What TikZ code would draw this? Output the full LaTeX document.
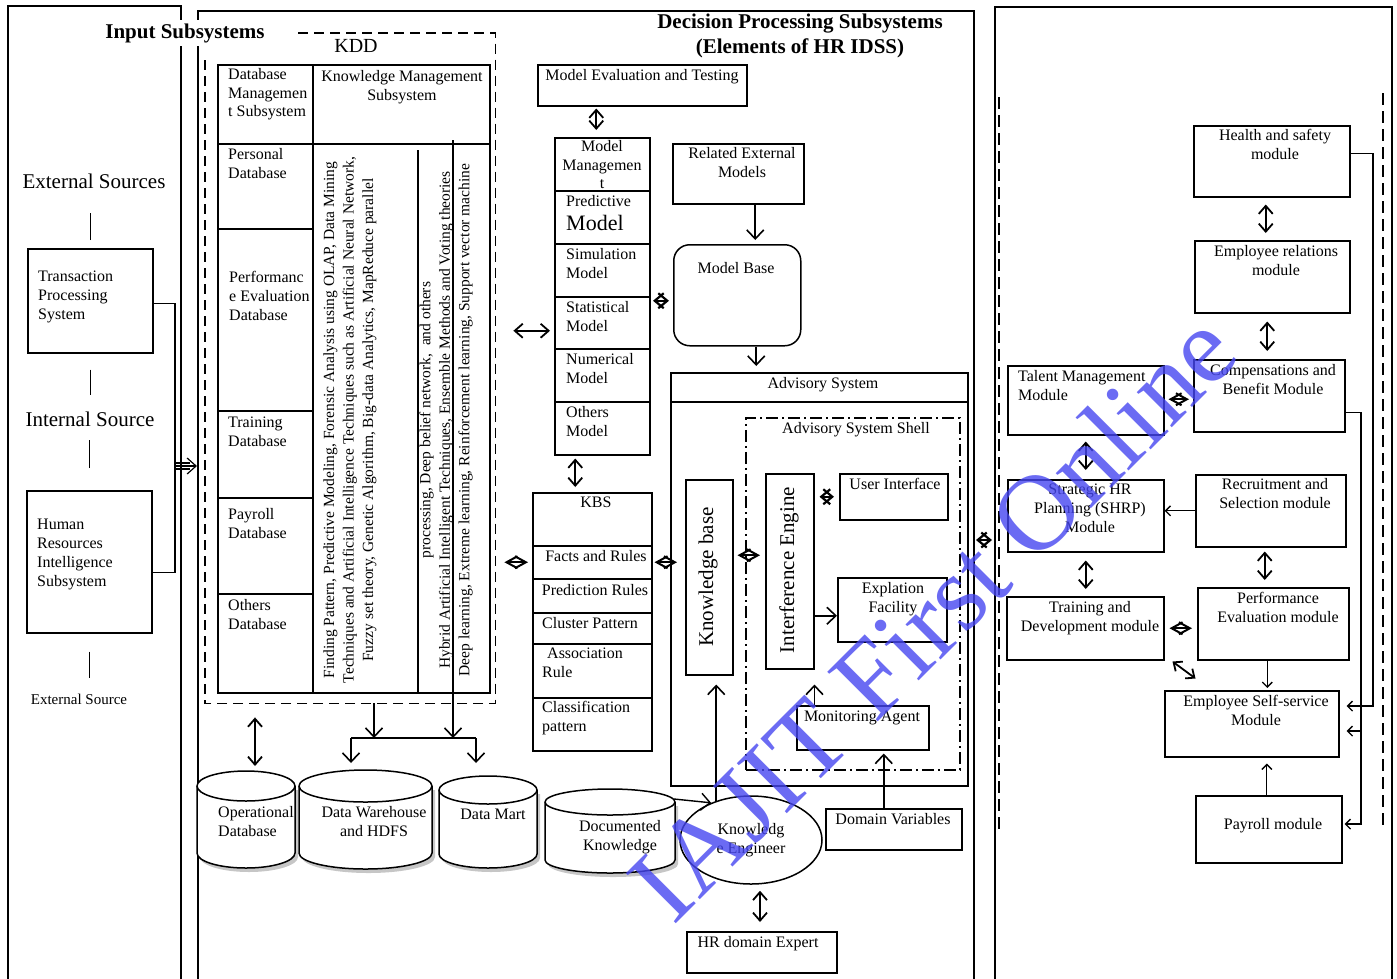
\documentclass[tikz,border=0pt]{standalone}
\usepackage{fontspec}
\setmainfont{Liberation Serif}
\usetikzlibrary{arrows.meta,shapes.geometric,calc}
\definecolor{wmblue}{RGB}{70,70,240}
\tikzset{
  ln/.style={line width=1.5pt},
  box/.style={draw, line width=1.5pt, inner sep=0pt, anchor=north west},
  tx/.style={inner sep=0pt, font=\fontsize{16}{18.8}\selectfont},
  big/.style={inner sep=0pt, font=\fontsize{21}{24}\selectfont},
  ttl/.style={inner sep=0pt, font=\fontsize{21}{25}\selectfont\bfseries},
  rot/.style={inner sep=0pt, rotate=90, align=center, font=\fontsize{15.5}{19.5}\selectfont},
  va/.style={line width=1.6pt, -{Straight Barb[length=9pt,width=17pt]}},
  vv/.style={line width=1.8pt, {Straight Barb[length=8pt,width=14pt]}-{Straight Barb[length=8pt,width=14pt]}},
  dia/.style={line width=2pt, {Straight Barb[length=11pt,width=12pt]}-{Straight Barb[length=11pt,width=12pt]}},
  xx/.style={line width=2.2pt, {Straight Barb[length=9pt,width=15pt]}-{Straight Barb[length=9pt,width=15pt]}},
  sa/.style={line width=1.4pt, -{Straight Barb[length=5pt,width=10pt]}},
  dsh/.style={line width=1.5pt, dash pattern=on 10pt off 6pt},
  dd/.style={line width=1.5pt, dash pattern=on 12pt off 4pt on 2pt off 4pt},
}
\newcommand\mybox[5]{\node[box, minimum width={#4-#2}, minimum height={#5-#3}] (#1) at (#2,#3) {};}
\newcommand\myct[4]{\node[tx, align=center, anchor=north] (#1) at (#2,#3-6) {#4};}
\newcommand\mylt[4]{\node[tx, align=left, anchor=north west] (#1) at (#2,#3-6) {#4};}
% cylinder: name, x1, x2, y top-ellipse centre, y bottom-ellipse centre, ry
\newcommand\mycyl[6]{%
  \pgfmathsetmacro\cylcx{(#2+#3)/2}\pgfmathsetmacro\cylrx{(#3-#2)/2}%
  \fill[gray!45] (#2+3,#4+4) -- (#2+3,#5+4) arc[start angle=180,end angle=360,x radius=\cylrx pt,y radius=#6pt] -- (#3+3,#4+4) -- cycle;
  \draw[ln, fill=white] (#2,#4) -- (#2,#5) arc[start angle=180,end angle=360,x radius=\cylrx pt,y radius=#6pt] -- (#3,#4) arc[start angle=0,end angle=180,x radius=\cylrx pt,y radius=#6pt] -- cycle;
  \draw[ln] (#2,#4) arc[start angle=180,end angle=360,x radius=\cylrx pt,y radius=#6pt];
  \coordinate (#1) at (\cylcx,#4-#6);
}
\begin{document}
\begin{tikzpicture}[x=1pt,y=-1pt]
\useasboundingbox (0,0) rectangle (1397,978);
\clip (0,0) rectangle (1397,978);

% ---------- panels
\mybox{lp}{7}{5}{180}{990}
\mybox{mp}{197}{10}{973}{990}
\mybox{rp}{994}{6}{1391}{990}

\node[ttl, fill=white, inner sep=3pt] (inTitle) at (185,33) {Input Subsystems};
\node[ttl, align=center, anchor=north] (dpTitle) at (800,14) {Decision Processing Subsystems\\(Elements of HR IDSS)};

% ---------- left panel
\node[big] (es) at (94,181) {External Sources};
\node[big] (isrc) at (90,419) {Internal Source};
\node[tx, font=\fontsize{15}{18}\selectfont] (es2) at (79,699) {External Source};
\mybox{tps}{27}{248}{152}{352}
\mylt{tpsT}{38}{277}{Transaction\\Processing\\System}
\mybox{hris}{26}{490}{151}{632}
\mylt{hrisT}{37}{525}{Human\\Resources\\Intelligence\\Subsystem}
\draw[ln] ([yshift=8pt]tps.north) -- ([yshift=35pt]tps.north);
\draw[ln] ([yshift=-16pt]tps.south) -- ([yshift=-41pt]tps.south);
\draw[ln] ([yshift=22pt]hris.north) -- ([yshift=50pt]hris.north);
\draw[ln] ([yshift=-18pt]hris.south) -- ([yshift=-44pt]hris.south);
\coordinate (bus) at (175,466);
\draw[line width=1.2pt] ([yshift=-3pt]tps.east) -| (bus) |- ([yshift=-11pt]hris.east);
\draw[line width=1.2pt] ([yshift=3pt]bus) -- ++(15pt,0pt);
\draw[line width=1.2pt] ([yshift=-3pt]bus) -- ++(15pt,0pt);
\draw[line width=1.2pt, -{Straight Barb[length=9pt,width=16pt]}] (bus) -- (bus -| mp.west);

% ---------- KDD
\node[inner sep=0pt, minimum width=290, minimum height=670, anchor=north west] (kdd) at (205,33) {};
\draw[dsh] (298,33) -- (kdd.north east) -- (kdd.south east) -- (kdd.south west) -- (205,60);
\node[big, font=\fontsize{20}{24}\selectfont] (kddT) at (356,46) {KDD};

\mybox{dbh}{217}{64}{312}{143}
\mybox{kmh}{312}{64}{489}{143}
\mybox{pdb}{217}{143}{312}{228}
\mybox{pedb}{217}{228}{312}{410}
\mybox{tdb}{217}{410}{312}{497}
\mybox{paydb}{217}{497}{312}{593}
\mybox{odb}{217}{593}{312}{692}
\mybox{kmb}{312}{143}{489}{692}
\draw[ln] (418,150) -- (418,692);
\draw[ln] (453,140) -- (453,703);

\mylt{dbhT}{228}{74}{Database\\Managemen\\t Subsystem}
\myct{kmhT}{402}{76}{Knowledge Management\\Subsystem}
\mylt{pdbT}{228}{154}{Personal\\Database}
\mylt{pedbT}{229}{277}{Performanc\\e Evaluation\\Database}
\mylt{tdbT}{228}{423}{Training\\Database}
\mylt{paydbT}{228}{514}{Payroll\\Database}
\mylt{odbT}{228}{605}{Others\\Database}

\node[rot] (km1) at (350,420) {Finding Pattern, Predictive Modeling, Forensic Analysis using OLAP, Data Mining\\Techniques and Artificial Intelligence Techniques such as Artificial Neural Network,\\Fuzzy set theory, Genetic Algorithm, Big-data Analytics, MapReduce parallel};
\node[rot] (km2) at (446,420) {processing, Deep belief network,\ \ and others\\Hybrid Artificial Intelligent Techniques, Ensemble Methods and Voting theories\\Deep learning, Extreme learning, Reinforcement learning, Support vector machine};

% ---------- model management
\mybox{met}{537}{64}{746}{105}
\myct{metT}{642}{75}{Model Evaluation and Testing}
\mybox{mmh}{554}{137}{649}{190}
\mybox{pm}{554}{190}{649}{243}
\mybox{sm}{554}{243}{649}{296}
\mybox{stm}{554}{296}{649}{348}
\mybox{nm}{554}{348}{649}{401}
\mybox{om}{554}{401}{649}{454}
\myct{mmhT}{602}{146}{Model\\Managemen\\t}
\mylt{pmT1}{566}{201}{Predictive}
\node[inner sep=0pt, font=\fontsize{22}{24}\selectfont, anchor=north west] (pmT2) at (566,215) {Model};
\mylt{smT}{566}{254}{Simulation\\Model}
\mylt{stmT}{566}{307}{Statistical\\Model}
\mylt{nmT}{566}{359}{Numerical\\Model}
\mylt{omT}{566}{412}{Others\\Model}

\mybox{rem}{672}{143}{803}{203}
\myct{remT}{742}{153}{Related External\\Models}
\node[box, rounded corners=16pt, minimum width=127, minimum height=101] (mb) at (673,244) {};
\myct{mbT}{736}{268}{Model Base}

% ---------- KBS
\mybox{kbs}{532}{492}{651}{545}
\mybox{far}{532}{545}{651}{578}
\mybox{prr}{532}{578}{651}{612}
\mybox{clp}{532}{612}{651}{643}
\mybox{asr}{532}{643}{651}{697}
\mybox{clsp}{532}{697}{651}{750}
\myct{kbsT}{596}{503}{KBS}
\myct{farT}{596}{556}{Facts and Rules}
\myct{prrT}{595}{590}{Prediction Rules}
\mylt{clpT}{542}{623}{Cluster Pattern}
\mylt{asrT}{542}{654}{\hspace*{5pt}Association\\Rule}
\mylt{clspT}{542}{707}{Classification\\pattern}

% ---------- advisory system
\mybox{adv}{670}{372}{967}{785}
\draw[ln] ([yshift=-30pt]adv.north west) -- ([yshift=-30pt]adv.north east);
\myct{advT}{823}{383}{Advisory System}
\node[dd, draw, inner sep=0pt, anchor=north west, minimum width=214, minimum height=352] (shell) at (745,417) {};
\myct{shellT}{856}{428}{Advisory System Shell}
\mybox{kb}{685}{479}{732}{674}
\node[rot, font=\fontsize{21}{24}\selectfont] (kbT) at (708,577) {Knowledge base};
\mybox{ie}{765}{473}{813}{668}
\node[rot, font=\fontsize{21}{24}\selectfont] (ieT) at (789,570) {Interference Engine};
\mybox{ui}{839}{473}{947}{519}
\myct{uiT}{895}{484}{User Interface}
\mybox{ef}{837}{577}{946}{641}
\myct{efT}{893}{588}{Explation\\Facility}
\mybox{ma}{796}{705}{928}{749}
\myct{maT}{862}{717}{Monitoring Agent}

% ---------- storage
\mycyl{opdtop}{197}{295}{786}{853}{15}
\mylt{opdT}{218}{812}{Operational\\Database}
\mycyl{dwtop}{299}{432}{786}{853}{16}
\myct{dwT}{374}{812}{Data Warehouse\\and HDFS}
\mycyl{dmtop}{439}{537}{790}{854}{14}
\myct{dmT}{493}{815}{Data Mart}
\mycyl{dktop}{545}{675}{802}{860}{13}
\myct{dkT}{620}{826}{Documented\\Knowledge}

\node[ellipse, draw, ln, tx, align=center, minimum width=142pt, minimum height=88pt] (ke) at (751,840) {Knowledg\\e Engineer};
\mybox{dv}{825}{808}{961}{849}
\myct{dvT}{893}{819}{Domain Variables}
\mybox{hre}{686}{931}{836}{972}
\myct{hreT}{758}{942}{HR domain Expert}

% ---------- right panel
\draw[dsh, dash pattern=on 12pt off 6pt] (999,97) -- (999,830);
\draw[dsh, dash pattern=on 12pt off 6pt] (1383,93) -- (1383,825);
\mybox{hs}{1193}{125}{1349}{196}
\myct{hsT}{1275}{135}{Health and safety\\module}
\mybox{er}{1194}{240}{1349}{312}
\myct{erT}{1276}{251}{Employee relations\\module}
\mybox{cb}{1193}{359}{1344}{431}
\myct{cbT}{1273}{370}{Compensations and\\Benefit Module}
\mybox{tm}{1007}{365}{1163}{434}
\mylt{tmT}{1018}{376}{Talent Management\\Module}
\mybox{shrp}{1007}{479}{1163}{551}
\myct{shrpT}{1090}{490}{Strategic HR\\Planning (SHRP)\\Module}
\mybox{rs}{1195}{474}{1345}{546}
\myct{rsT}{1275}{484}{Recruitment and\\Selection module}
\mybox{td}{1006}{596}{1163}{659}
\myct{tdT}{1090}{607}{Training and\\Development module}
\mybox{pe}{1197}{587}{1348}{659}
\myct{peT}{1278}{598}{Performance\\Evaluation module}
\mybox{ess}{1164}{690}{1338}{756}
\myct{essT}{1256}{701}{Employee Self-service\\Module}
\mybox{pay}{1195}{795}{1341}{862}
\myct{payT}{1273}{824}{Payroll module}

% ---------- connectors: middle panel
\draw[vv, shorten <=2pt, shorten >=7pt] ([xshift=-6pt]mmh.north |- met.south) -- ([xshift=-6pt]mmh.north);
\draw[va, shorten >=4pt] ([xshift=17pt]rem.south) -- ([xshift=17pt]rem.south |- mb.north);
\draw[va, shorten >=6pt] ([xshift=19pt]mb.south) -- ([xshift=19pt]mb.south |- adv.north);
\draw[xx] ([yshift=-5.5pt,xshift=-4pt]mb.west) -- ([yshift=-5.5pt,xshift=-20pt]mb.west);
\draw[vv, shorten <=18pt, shorten >=4pt] ([yshift=-8pt]stm.west -| kdd.east) -- ([yshift=-8pt]stm.west);
\draw[vv, shorten <=3pt, shorten >=5pt] ([xshift=-27pt]om.south) -- ([xshift=-27pt]om.south |- kbs.north);
\draw[dia, shorten <=4pt, shorten >=9pt] (far.west) -- (far.west -| kdd.east);
\draw[dia, shorten <=2pt] (far.east) -- ([xshift=7pt]far.east -| adv.west);
\draw[dia, shorten <=4pt, shorten >=5pt] ([yshift=22pt]kb.east) -- ([yshift=22pt]kb.east -| ie.west);
\draw[xx, shorten <=5pt, shorten >=5pt] (ui.west) -- (ui.west -| ie.east);
\draw[va] ([yshift=-6pt]ef.west -| ie.east) -- ([yshift=-6pt]ef.west);
\draw[va, shorten >=15pt] (ma.north -| ie.east) -- (ie.south east);
\draw[va, shorten >=3pt] ([xshift=-10pt]dv.north) -- ([xshift=-10pt]dv.north |- ma.south);
\draw[va, shorten >=9pt] ([xshift=7pt,yshift=-6pt]kb.south |- ke.north) -- ([xshift=7pt]kb.south);
\coordinate (docR) at (674,799);
\draw[va, line width=1.4pt] (docR) -- (ke.137);
\draw[vv, shorten <=6pt, shorten >=9pt] ([xshift=9pt]ke.south) -- ([xshift=9pt]ke.south |- hre.north);

\coordinate (barL) at (351,738);
\coordinate (barR) at (476,738);
\draw[ln] (barL) -- (barR);
\draw[va] ([xshift=169pt]kdd.south west) -- ([xshift=169pt]kdd.south west |- barL);
\draw[va] ([xshift=248pt]kdd.south west) -- ([xshift=248pt]kdd.south west |- barL);
\draw[va, shorten >=7pt] (barL) -- (barL |- dwtop);
\draw[va, shorten >=13pt] (barR) -- (barR |- dmtop);
\draw[vv, shorten <=14pt, shorten >=5pt] ([xshift=50pt]kdd.south west) -- ([xshift=50pt]kdd.south west |- opdtop);

\coordinate (mr) at (984,540);
\draw[xx] ([xshift=-8pt]mr) -- ([xshift=8pt]mr);

% ---------- connectors: right panel
\draw[vv, shorten <=7pt, shorten >=7pt] ([xshift=-6pt]hs.south) -- ([xshift=-6pt]hs.south |- er.north);
\draw[vv, shorten <=8pt, shorten >=8pt] ([xshift=-5pt]er.south) -- ([xshift=-5pt]er.south |- cb.north);
\draw[dia, shorten <=4pt, shorten >=4pt] ([yshift=1pt]tm.east) -- ([yshift=1pt]tm.east -| cb.west);
\draw[vv, shorten <=6pt, shorten >=9pt] (tm.south) -- (tm.south |- shrp.north);
\draw[sa] (rs.west) -- (rs.west -| shrp.east);
\draw[vv, shorten <=8pt, shorten >=7pt] (shrp.south) -- (shrp.south |- td.north);
\draw[vv, shorten <=4pt, shorten >=7pt] ([xshift=-6pt]rs.south) -- ([xshift=-6pt]rs.south |- pe.north);
\draw[dia, shorten <=5pt, shorten >=5pt] (td.east) -- (td.east -| pe.west);
\draw[line width=1.8pt, {Straight Barb[length=7pt,width=12pt]}-{Straight Barb[length=7pt,width=12pt]}] ([shift={(8pt,-1pt)}]td.south east) -- ([shift={(31pt,-18pt)}]td.south east);
\draw[sa, shorten >=2pt] ([xshift=-6pt]pe.south) -- ([xshift=-6pt]pe.south |- ess.north);
\draw[sa, shorten >=6pt] ([xshift=-2pt]pay.north) -- ([xshift=-2pt]pay.north |- ess.south);
\coordinate (r1) at (1373,706);
\draw[sa, shorten >=7pt] ([yshift=8pt]hs.east) -| (r1) -- (ess.east |- r1);
\coordinate (r2) at (1361,824);
\draw[sa, shorten >=2pt] ([yshift=-17pt]cb.east) -| (r2) -- (pay.east |- r2);
\coordinate (r3) at (1361,731);
\draw[sa, shorten >=7pt] (r3) -- (ess.east |- r3);

% ---------- watermark
\node[text=wmblue, text opacity=0.8, rotate=45, inner sep=0pt, font=\fontsize{108}{108}\selectfont] (wm) at (932,616) {IAJIT First Online};
\end{tikzpicture}
\end{document}
